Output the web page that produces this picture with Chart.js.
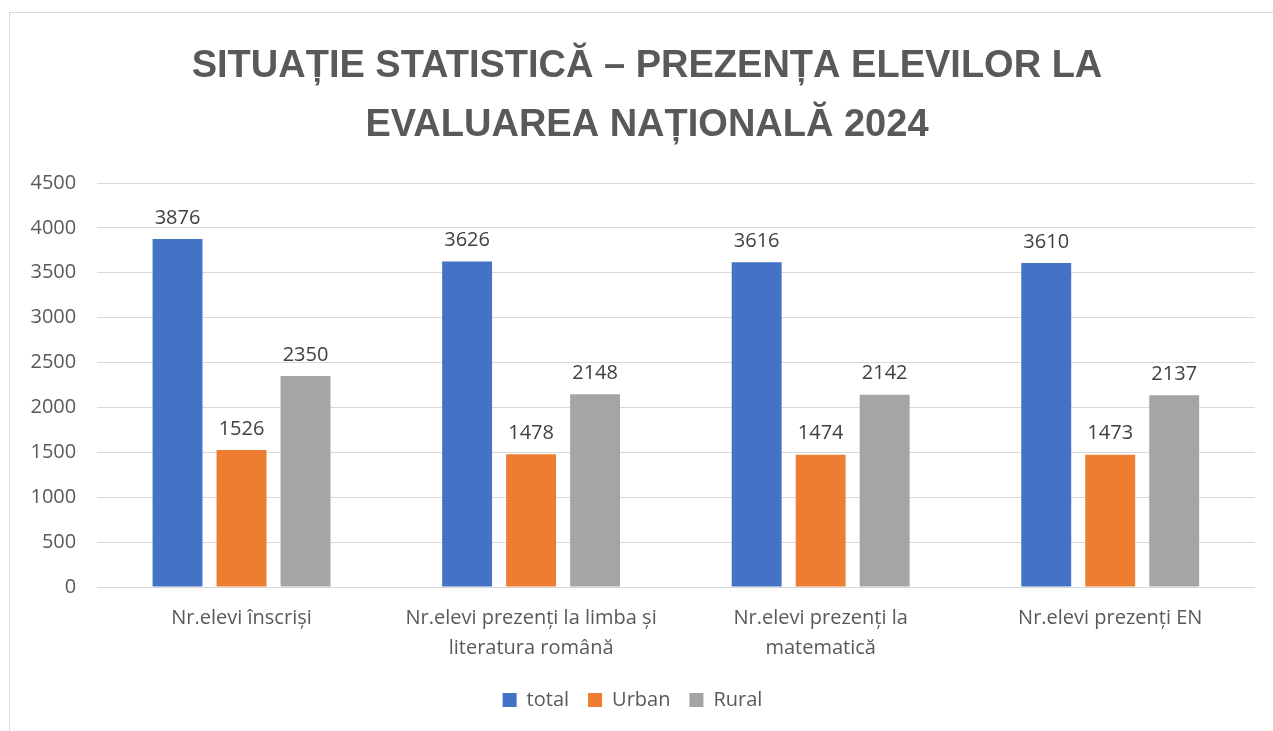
<!DOCTYPE html>
<html>
<head>
<meta charset="utf-8">
<script src="https://cdn.jsdelivr.net/npm/chart.js@4.4.1/dist/chart.umd.min.js"></script>
<style>
  body { margin: 0; background: #fff; }
  #box { position: absolute; left: 9px; top: 12px; width: 1280px; height: 740px; border: 1px solid #d9d9d9; }
  #wrap { position: absolute; left: 0; top: 0; width: 1263px; height: 718px; }
</style>
</head>
<body>
<div id="box"><div id="wrap"><canvas id="chart"></canvas></div></div>
<script>
const categories = [
    ['Nr.elevi înscriși'],
    ['Nr.elevi prezenți la limba și', 'literatura română'],
    ['Nr.elevi prezenți la', 'matematică'],
    ['Nr.elevi prezenți EN']
];
const totalValues = [3876, 3626, 3616, 3610];
const urbanValues = [1526, 1478, 1474, 1473];
const ruralValues = [2350, 2148, 2142, 2137];
const yTicks = [0, 500, 1000, 1500, 2000, 2500, 3000, 3500, 4000, 4500];
const titleLines = ['SITUAȚIE STATISTICĂ – PREZENȚA ELEVILOR LA', 'EVALUAREA NAȚIONALĂ 2024'];

const fontFamily = "'Open Sans', 'Noto Sans', sans-serif";

// labels above each bar
const valueLabels = {
    id: 'valueLabels',
    afterDatasetsDraw(chart) {
        const ctx = chart.ctx;
        ctx.save();
        ctx.font = "20px " + fontFamily;
        ctx.fillStyle = '#404040';
        ctx.textAlign = 'center';
        ctx.textBaseline = 'bottom';
        chart.data.datasets.forEach((ds, i) => {
            chart.getDatasetMeta(i).data.forEach((bar, j) => {
                ctx.fillText(ds.data[j], bar.x, bar.y - 11);
            });
        });
        ctx.restore();
    }
};

// title, a bit right of the canvas centre like the original
const bigTitle = {
    id: 'bigTitle',
    afterDraw(chart) {
        const ctx = chart.ctx;
        ctx.save();
        ctx.font = "bold 38px 'Liberation Sans', sans-serif";
        ctx.fillStyle = '#595959';
        ctx.textAlign = 'center';
        ctx.textBaseline = 'middle';
        titleLines.forEach((t, i) => ctx.fillText(t, 637, 54 + i * 59));
        ctx.restore();
    }
};

new Chart(document.getElementById('chart'), {
    type: 'bar',
    data: {
        labels: categories,
        datasets: [
            { label: 'total', data: totalValues, backgroundColor: '#4472c4' },
            { label: 'Urban', data: urbanValues, backgroundColor: '#ed7d31' },
            { label: 'Rural', data: ruralValues, backgroundColor: '#a5a5a5' }
        ]
    },
    options: {
        responsive: true,
        maintainAspectRatio: false,
        animation: false,
        datasets: { bar: { categoryPercentage: 0.663, barPercentage: 0.78 } },
        layout: { padding: { left: 0, right: 18, top: 170, bottom: 11 } },
        scales: {
            x: {
                grid: { display: false },
                border: { display: false },
                ticks: { color: '#595959', font: { family: fontFamily, size: 20, lineHeight: 1.5 }, padding: 8, maxRotation: 0 }
            },
            y: {
                min: 0,
                max: 4500,
                afterBuildTicks: axis => { axis.ticks = yTicks.map(v => ({ value: v })); },
                grid: { color: '#d9d9d9', lineWidth: 1, drawTicks: false },
                border: { display: false },
                ticks: { color: '#595959', font: { family: fontFamily, size: 20 }, padding: 20.5, callback: v => String(v) }
            }
        },
        plugins: {
            title: { display: false },
            legend: {
                position: 'bottom',
                labels: { color: '#595959', font: { family: fontFamily, size: 20 }, boxWidth: 14, boxHeight: 14, padding: 19 }
            },
            tooltip: { enabled: false }
        }
    },
    plugins: [valueLabels, bigTitle]
});
</script>
</body>
</html>
